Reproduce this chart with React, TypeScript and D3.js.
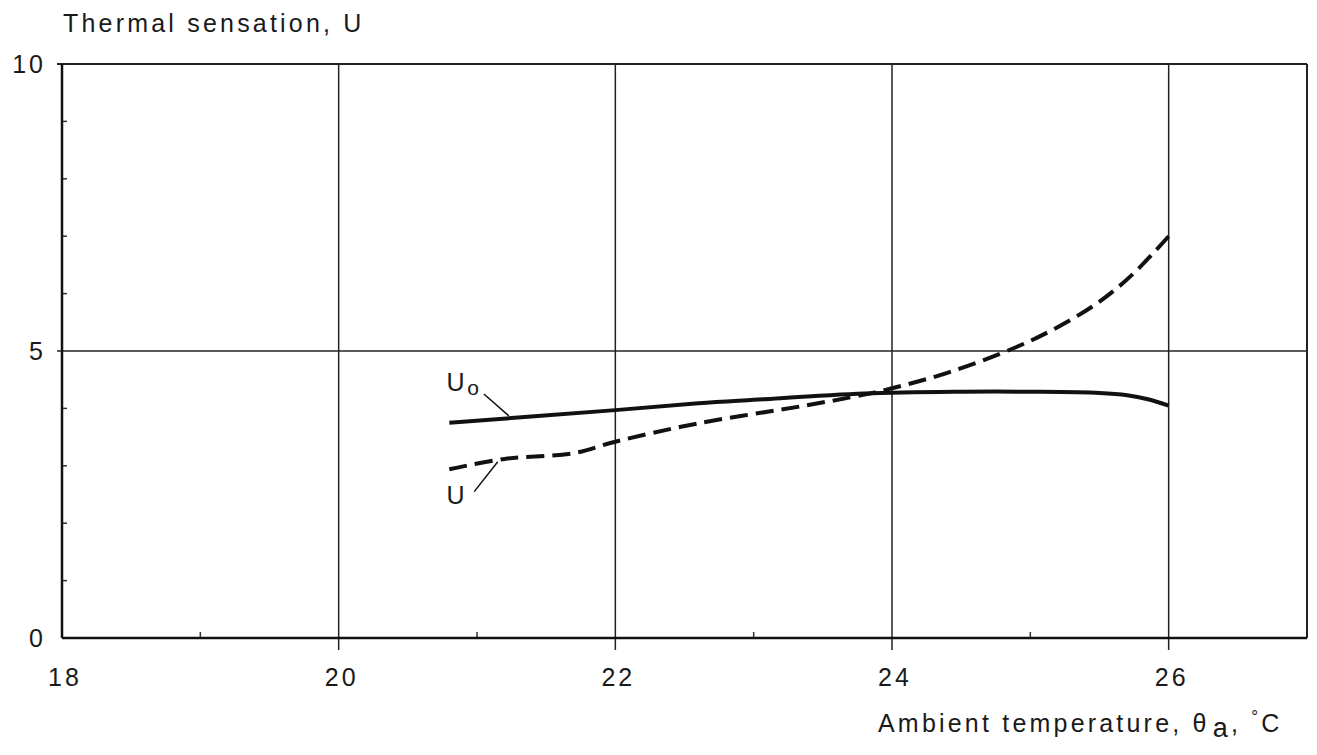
import React from 'react';
import * as d3 from 'd3';

// thermal sensation vs ambient temperature
const tempU0 = [20.8, 22.0, 22.6, 23.0, 23.8, 24.5, 25.0, 25.5, 25.7, 25.85, 26.0];
const valU0 = [3.75, 3.97, 4.09, 4.15, 4.26, 4.29, 4.29, 4.27, 4.23, 4.16, 4.05];

const tempU = [20.8, 21.2, 21.7, 22.0, 22.6, 23.35, 23.8, 24.0, 24.4, 24.9, 25.2, 25.5, 25.75, 26.0];
const valU = [2.94, 3.12, 3.22, 3.42, 3.74, 4.04, 4.24, 4.35, 4.62, 5.07, 5.42, 5.86, 6.36, 7.0];

const xTicks = [18, 20, 22, 24, 26];
const xMinor = [19, 21, 23, 25];
const yTicks = [0, 5, 10];
const yMinor = [1, 2, 3, 4, 6, 7, 8, 9];

const W = 1317;
const H = 755;
const margin = { left: 62, top: 64, right: 10, bottom: 117 };
const font = '"Liberation Sans", Arial, Helvetica, sans-serif';

export default function App() {
	const x = d3.scaleLinear().domain([18, 27]).range([margin.left, W - margin.right]);
	const y = d3.scaleLinear().domain([0, 10]).range([H - margin.bottom, margin.top]);

	const line = d3.line<[number, number]>()
		.x(d => x(d[0]))
		.y(d => y(d[1]))
		.curve(d3.curveCatmullRom.alpha(0.5));

	const u0Points = tempU0.map((t, i) => [t, valU0[i]] as [number, number]);
	const uPoints = tempU.map((t, i) => [t, valU[i]] as [number, number]);

	const x0 = x(18), x1 = x(27), y0 = y(0), y1 = y(10);

	return (
		<svg width={W} height={H} style={{ position: 'absolute', left: 0, top: 0, background: '#fff' }}
			fontFamily={font} fill="#1a1a1a">
			{/* grid */}
			{xTicks.filter(t => t > 18).map(t => (
				<line key={'gx' + t} x1={x(t)} x2={x(t)} y1={y1} y2={y0 + 12} stroke="#222" strokeWidth={1.5} />
			))}
			{yTicks.filter(t => t > 0).map(t => (
				<line key={'gy' + t} x1={x0 - 5} x2={x1} y1={y(t)} y2={y(t)} stroke="#222" strokeWidth={t === 10 ? 2 : 1.5} />
			))}
			<line x1={x1} x2={x1} y1={y1} y2={y0} stroke="#222" strokeWidth={2} />

			{/* minor ticks */}
			{yMinor.map(t => (
				<line key={'my' + t} x1={x0} x2={x0 + 5} y1={y(t)} y2={y(t)} stroke="#333" strokeWidth={1.5} />
			))}
			{xMinor.map(t => (
				<line key={'mx' + t} x1={x(t)} x2={x(t)} y1={y0} y2={y0 - 6} stroke="#333" strokeWidth={1.5} />
			))}

			{/* axes */}
			<line x1={x0} x2={x0} y1={y1} y2={y0} stroke="#111" strokeWidth={2.5} />
			<line x1={x0} x2={x1} y1={y0} y2={y0} stroke="#111" strokeWidth={2.5} />

			{/* tick labels */}
			{xTicks.map(t => (
				<text key={'tx' + t} x={x(t) + 3} y={y0 + 48} fontSize={25} letterSpacing={3} textAnchor="middle">{t}</text>
			))}
			{yTicks.map(t => (
				<text key={'ty' + t} x={x0 - 16} y={y(t) + 9} fontSize={25} letterSpacing={3} textAnchor="end">{t}</text>
			))}

			{/* curves */}
			<path d={line(u0Points) ?? ''} fill="none" stroke="#111" strokeWidth={4} />
			<path d={line(uPoints) ?? ''} fill="none" stroke="#111" strokeWidth={4} strokeDasharray="18 8" />

			{/* curve labels */}
			<text x={x(20.78)} y={y(4.3)} fontSize={25}>U</text>
			<text x={x(20.93)} y={y(4.24)} fontSize={21}>o</text>
			<line x1={x(21.05)} y1={y(4.25)} x2={x(21.23)} y2={y(3.87)} stroke="#111" strokeWidth={1.5} />

			<text x={x(20.78)} y={y(2.33)} fontSize={25}>U</text>
			<line x1={x(20.98)} y1={y(2.55)} x2={x(21.15)} y2={y(3.07)} stroke="#111" strokeWidth={1.5} />

			{/* axis titles */}
			<text x={63} y={32} fontSize={25} letterSpacing={3.2}>Thermal sensation, U</text>
			<text x={878} y={732} fontSize={25} letterSpacing={3.2}>
				Ambient temperature,{'  '}θ
				<tspan fontSize={27} dy={5} dx={3}>a</tspan>
				<tspan dy={-5}>, </tspan>
				<tspan fontSize={17} dy={-10}>°</tspan>
				<tspan dy={10}>C</tspan>
			</text>
		</svg>
	);
}
